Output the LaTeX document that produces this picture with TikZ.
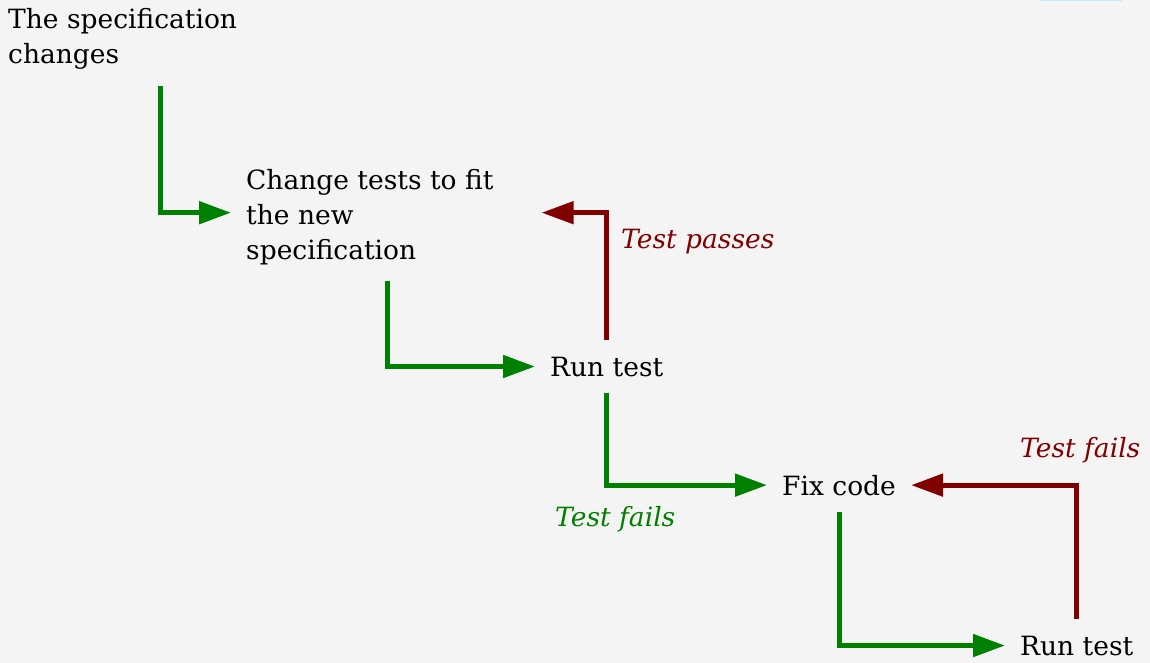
\documentclass[tikz,border=0pt]{standalone}
\usepackage{fontspec}
\setmainfont{DejaVu Serif}
\usetikzlibrary{arrows.meta}

\definecolor{bgColor}{RGB}{244,244,244}
\definecolor{goColor}{RGB}{0,128,0}
\definecolor{backColor}{RGB}{128,0,0}

\newcommand{\stepFont}{\fontsize{26.5}{35}\selectfont}

\tikzset{
  stepText/.style={anchor=base west, inner xsep=15pt, inner ysep=16pt, align=left, font=\stepFont},
  goArrow/.style={draw=goColor, line width=5pt, -{Triangle[length=32pt,width=22pt]}},
  backArrow/.style={draw=backColor, line width=5pt, -{Triangle[length=32pt,width=22pt]}},
  goLabel/.style={anchor=base west, inner sep=0pt, text=goColor, font=\stepFont\itshape},
  backLabel/.style={anchor=base west, inner sep=0pt, text=backColor, font=\stepFont\itshape}
}

\begin{document}
\begin{tikzpicture}[x=1pt, y=-1pt]
  \fill[bgColor] (0,0) rectangle (1150,663);
  \useasboundingbox (0,0) rectangle (1150,663);
  \draw[cyan!25, line width=2pt] (1040,0) -- (1122,0);
  % Steps
  \node[stepText] (spec) at (-7,64) {The specification\\changes};
  \node[stepText] (change) at (231,259) {Change tests to fit\\the new\\specification};
  \node[stepText] (run1) at (535,376) {Run test};
  \node[stepText] (fix) at (767,495) {Fix code};
  \node[stepText] (run2) at (1005,655) {Run test};
  % Forward
  \draw[goArrow] ([xshift=38pt]spec.south) |- ([yshift=4pt]change.west);
  \draw[goArrow] ([xshift=18pt]change.south) |- (run1.west);
  \draw[goArrow] (run1.south) |- (fix.west);
  \draw[goArrow] (fix.south) |- (run2.west);
  % Back
  \draw[backArrow] (run1.north) |- ([xshift=33pt,yshift=4pt]change.east);
  \draw[backArrow] (run2.north) |- (fix.east);
  % Labels
  \node[backLabel] (passes) at (621,248) {Test passes};
  \node[goLabel] (fails1) at (555,526) {Test fails};
  \node[backLabel] (fails2) at (1020,457) {Test fails};
\end{tikzpicture}
\end{document}
